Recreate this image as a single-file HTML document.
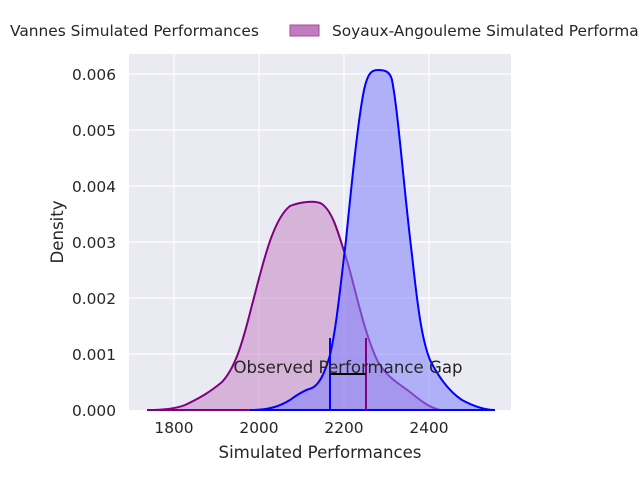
<!DOCTYPE html>
<html><head><style>body{margin:0;background:#fff}svg{display:block;font-family:"DejaVu Sans","Liberation Sans",sans-serif}</style></head>
<body>
<svg width="640" height="480" viewBox="0 0 640 480">
<rect x="129" y="54" width="382" height="356" fill="#eaeaf2"/>
<g stroke="#fff" stroke-width="1.2">
<line x1="174" y1="54" x2="174" y2="410"/><line x1="259" y1="54" x2="259" y2="410"/><line x1="344" y1="54" x2="344" y2="410"/><line x1="429" y1="54" x2="429" y2="410"/>
<line x1="129" y1="74" x2="511" y2="74"/><line x1="129" y1="130" x2="511" y2="130"/><line x1="129" y1="186" x2="511" y2="186"/><line x1="129" y1="242" x2="511" y2="242"/><line x1="129" y1="298" x2="511" y2="298"/><line x1="129" y1="354" x2="511" y2="354"/>
</g>
<path d="M147,410 C160,410 175,409 185,405 C200,398 210,392 222,382 C235,368 242,345 252,305 C262,268 272,220 290,206 C300,202 315,200 322,204 C333,212 338,232 348,264 C358,300 365,335 378,362 C388,378 398,383 410,392 C420,400 428,407 440,410 L490,410 Z" fill="#c27bbf" fill-opacity="0.5" stroke="#800080" stroke-width="2"/>
<path d="M250,410 C270,410 280,406 290,400 C298,394 305,390 312,388 C320,384 325,372 330,355 C336,330 340,290 346,240 C352,180 358,120 364,90 C368,72 372,70 378,70 C386,70 390,72 392,80 C398,110 404,190 412,255 C418,310 422,340 430,360 C440,380 450,392 462,400 C475,407 485,410 495,410 Z" fill="#8080ff" fill-opacity="0.55" stroke="#0000ff" stroke-width="2"/>
<line x1="330" y1="338" x2="330" y2="410" stroke="#0000ff" stroke-width="2"/>
<line x1="366" y1="338" x2="366" y2="410" stroke="#800080" stroke-width="2"/>
<line x1="330" y1="374" x2="366" y2="374" stroke="#000" stroke-width="2"/>
<text x="348" y="373" font-size="16.6" fill="#262626" text-anchor="middle">Observed Performance Gap</text>
<g font-size="15.4" fill="#262626" text-anchor="middle">
<text x="174" y="433">1800</text><text x="259" y="433">2000</text><text x="344" y="433">2200</text><text x="429" y="433">2400</text>
</g>
<g font-size="15.4" fill="#262626" text-anchor="end">
<text x="116" y="80">0.006</text><text x="116" y="136">0.005</text><text x="116" y="192">0.004</text><text x="116" y="248">0.003</text><text x="116" y="304">0.002</text><text x="116" y="360">0.001</text><text x="116" y="416">0.000</text>
</g>
<text x="320" y="458" font-size="16.6" fill="#262626" text-anchor="middle">Simulated Performances</text>
<text transform="translate(63,232) rotate(-90)" font-size="16.6" fill="#262626" text-anchor="middle">Density</text>
<text x="10" y="36" font-size="15.4" fill="#262626">Vannes Simulated Performances</text>
<rect x="290" y="25" width="29" height="11" fill="#c27bbf" stroke="#a04aa0"/>
<text x="332" y="36" font-size="15.4" fill="#262626">Soyaux-Angouleme Simulated Performances</text>
</svg>
</body></html>
